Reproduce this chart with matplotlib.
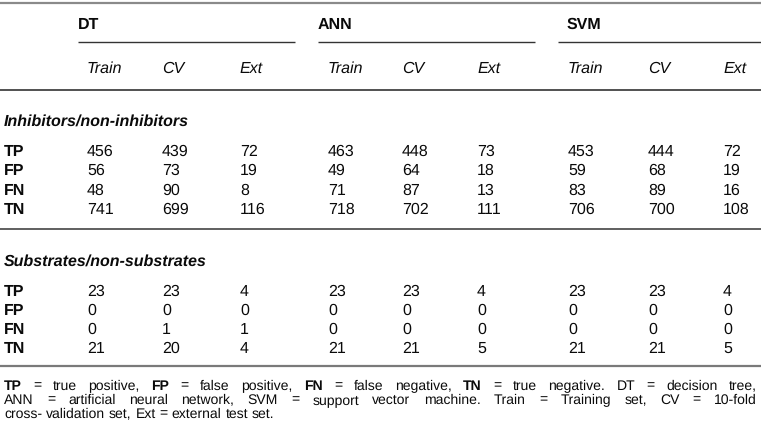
import matplotlib
matplotlib.use("Agg")
import matplotlib.pyplot as plt

plt.rcParams["font.family"] = ["Liberation Sans", "DejaVu Sans"]
plt.rcParams["text.hinting"] = "no_hinting"
plt.rcParams["text.hinting_factor"] = 1

# 数据
methods = ["DT", "ANN", "SVM"]
sets = ["Train", "CV", "Ext"]
row_labels = ["TP", "FP", "FN", "TN"]
sections = ["Inhibitors/non-inhibitors", "Substrates/non-substrates"]

inhib_dt = [[456, 439, 72], [56, 73, 19], [48, 90, 8], [741, 699, 116]]
inhib_ann = [[463, 448, 73], [49, 64, 18], [71, 87, 13], [718, 702, 111]]
inhib_svm = [[453, 444, 72], [59, 68, 19], [83, 89, 16], [706, 700, 108]]
sub_dt = [[23, 23, 4], [0, 0, 0], [0, 1, 1], [21, 20, 4]]
sub_ann = [[23, 23, 4], [0, 0, 0], [0, 0, 0], [21, 21, 5]]
sub_svm = [[23, 23, 4], [0, 0, 0], [0, 0, 0], [21, 21, 5]]

footnote = [
    "TP = true positive, FP = false positive, FN = false negative, TN = true negative. DT = decision tree,",
    "ANN = artificial neural network, SVM = support vector machine. Train = Training set, CV = 10-fold",
    "cross- validation set, Ext = external test set.",
]
bold_words = {"TP", "FP", "FN", "TN"}

W, H = 761, 435
fig = plt.figure(figsize=(W / 100, H / 100), dpi=100)
ax = fig.add_axes([0, 0, 1, 1])
ax.set_xlim(0, W)
ax.set_ylim(H, 0)
ax.axis("off")

TXT = "#0a0a0a"
FS = 11.8

# 列位置 (像素)
group_x = [78, 318, 567]
line_spans = [(78, 295), (318, 535), (558, 761)]
col_x = [[87, 162, 240], [328, 402, 477], [568, 648, 723]]

# 横线
ax.plot([0, W], [3.5, 3.5], color="#8a8a8a", lw=1.6, solid_capstyle="butt")
for x0, x1 in line_spans:
    ax.plot([x0, x1], [43, 43], color="#333333", lw=1.0, solid_capstyle="butt")
ax.plot([0, W], [91, 91], color="#333333", lw=1.2, solid_capstyle="butt")
ax.plot([0, W], [230, 230], color="#444444", lw=1.2, solid_capstyle="butt")
ax.plot([0, W], [366.5, 366.5], color="#7a7a7a", lw=1.6, solid_capstyle="butt")

# 表头
for gx, name in zip(group_x, methods):
    ax.text(gx, 25, name, fontsize=FS, fontweight="bold", color=TXT, va="center", ha="left")
for g in range(3):
    for c in range(3):
        ax.text(col_x[g][c], 69, sets[c], fontsize=FS, style="italic", color=TXT, va="center", ha="left")

# 表体
blocks = [
    (sections[0], 122, [152, 171, 191, 210], [inhib_dt, inhib_ann, inhib_svm]),
    (sections[1], 262, [292, 311, 330, 349], [sub_dt, sub_ann, sub_svm]),
]
for title, ty, rows_y, data in blocks:
    ax.text(4, ty, title, fontsize=FS, fontweight="bold", style="italic", color=TXT, va="center", ha="left")
    for r, ry in enumerate(rows_y):
        ax.text(4, ry, row_labels[r], fontsize=FS, fontweight="bold", color=TXT, va="center", ha="left")
        for g in range(3):
            for c in range(3):
                ax.text(col_x[g][c], ry, str(data[g][r][c]), fontsize=FS, color=TXT, va="center", ha="left")

# 脚注 (两端对齐)
renderer = fig.canvas.get_renderer()
FN_FS = 10.3
left, right = 4, 757
foot_y = [386, 400, 414]
t1 = ax.text(0, 0, "a a", fontsize=FN_FS)
t2 = ax.text(0, 0, "aa", fontsize=FN_FS)
space = t1.get_window_extent(renderer).width - t2.get_window_extent(renderer).width
t1.remove()
t2.remove()
for i, (line, fy) in enumerate(zip(footnote, foot_y)):
    words = line.split(" ")
    objs = []
    for w in words:
        t = ax.text(0, fy, w, fontsize=FN_FS, color=TXT, va="center", ha="left",
                    fontweight="bold" if w in bold_words else "normal")
        objs.append(t)
    widths = [t.get_window_extent(renderer).width for t in objs]
    if i < len(footnote) - 1:
        gap = (right - left - sum(widths)) / (len(words) - 1)
    else:
        gap = space
    x = left
    for t, w in zip(objs, widths):
        t.set_x(x)
        x += w + gap

fig.savefig("out.png", dpi=100, facecolor="white")
